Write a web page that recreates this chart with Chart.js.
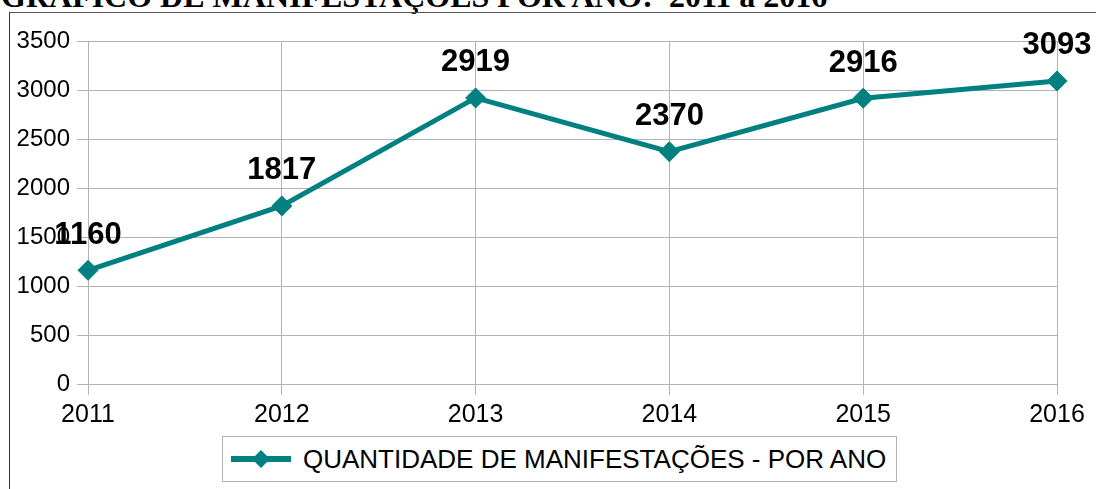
<!DOCTYPE html>
<html>
<head>
<meta charset="utf-8">
<script src="https://cdn.jsdelivr.net/npm/chart.js@4/dist/chart.umd.min.js"></script>
<style>
  html, body { margin: 0; padding: 0; background: #fff; }
  body { width: 1096px; height: 489px; position: relative; overflow: hidden; font-family: 'Liberation Sans', Arial, sans-serif; }
  #title { position: absolute; left: 1px; top: -20px; font: bold 32px 'Liberation Serif', 'Times New Roman', serif; line-height: 32px; white-space: pre; color: #000; }
  #frame { position: absolute; left: 9px; top: 12px; width: 1200px; height: 600px; border-left: 1px solid #333; border-top: 1px solid #555; }
  #wrap { position: absolute; left: 0; top: 0; width: 1096px; height: 489px; }
  #legend { position: absolute; left: 222px; top: 436px; width: 673px; height: 44px; border: 1px solid #b3b3b3; background: #fff;
            display: flex; align-items: center; font-size: 26px; color: #000; }
  #legend svg { margin-left: 8px; margin-right: 10px; }
</style>
</head>
<body>
<div id="title">GRÁFICO DE MANIFESTAÇÕES POR ANO:  2011 a 2016</div>
<div id="frame"></div>
<div id="wrap"><canvas id="chart" width="1096" height="489"></canvas></div>
<div id="legend">
  <svg width="62" height="24" viewBox="0 0 62 24">
    <line x1="0" y1="12" x2="60" y2="12" stroke="#008080" stroke-width="6"/>
    <polygon points="30,3 39,12 30,21 21,12" fill="#008080"/>
  </svg>
  <span>QUANTIDADE DE MANIFESTAÇÕES - POR ANO</span>
</div>
<script>
// ── DATA ──
const years = ['2011', '2012', '2013', '2014', '2015', '2016'];
const manifestacoes = [1160, 1817, 2919, 2370, 2916, 3093];
const seriesLabel = 'QUANTIDADE DE MANIFESTAÇÕES - POR ANO';

const teal = '#008080';
const gridColor = '#b3b3b3';

// value labels above each point
const valueLabels = {
  id: 'valueLabels',
  afterDatasetsDraw(chart) {
    const { ctx } = chart;
    const meta = chart.getDatasetMeta(0);
    ctx.save();
    ctx.font = 'bold 31px "Liberation Sans", Arial, sans-serif';
    ctx.fillStyle = '#000';
    ctx.textAlign = 'center';
    ctx.textBaseline = 'middle';
    meta.data.forEach((pt, i) => {
      ctx.fillText(String(manifestacoes[i]), pt.x, pt.y - 35);
    });
    ctx.restore();
  }
};

new Chart(document.getElementById('chart'), {
  type: 'line',
  data: {
    labels: years,
    datasets: [{
      label: seriesLabel,
      data: manifestacoes,
      borderColor: teal,
      backgroundColor: teal,
      borderWidth: 5,
      tension: 0,
      pointStyle: 'rectRot',
      pointRadius: 10,
      pointBorderWidth: 1,
      pointBorderColor: teal,
      pointBackgroundColor: teal
    }]
  },
  options: {
    responsive: false,
    animation: false,
    layout: { padding: { left: 0, right: 39, top: 41, bottom: 0 } },
    plugins: {
      legend: { display: false },
      tooltip: { enabled: false }
    },
    scales: {
      x: {
        offset: false,
        grid: { color: gridColor, lineWidth: 1, tickLength: 11, drawTicks: true },
        border: { color: gridColor },
        ticks: { color: '#000', font: { size: 25, family: '"Liberation Sans", Arial' }, padding: 5, maxRotation: 0 },
        afterFit: s => { s.height = 105; }
      },
      y: {
        min: 0,
        max: 3500,
        ticks: {
          stepSize: 500, color: '#000', padding: 7,
          font: { size: 24, family: '"Liberation Sans", Arial' },
          callback: v => String(v)
        },
        grid: { color: gridColor, lineWidth: 1, tickLength: 11 },
        border: { color: gridColor },
        afterFit: s => { s.width = 88; }
      }
    }
  },
  plugins: [valueLabels]
});
</script>
</body>
</html>
